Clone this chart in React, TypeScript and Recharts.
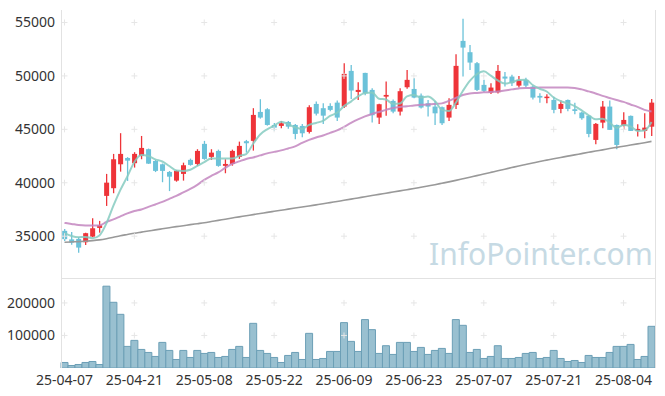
import React from 'react';
import { ComposedChart, Bar, Line, XAxis, YAxis, ReferenceDot } from 'recharts';

// trading days, 25-04-07 .. 25-08-08
const dates = [
  '25-04-07', '25-04-08', '25-04-09', '25-04-10', '25-04-11', '25-04-14', '25-04-15', '25-04-16', '25-04-17', '25-04-18',
  '25-04-21', '25-04-22', '25-04-23', '25-04-24', '25-04-25', '25-04-28', '25-04-29', '25-04-30', '25-05-02', '25-05-07',
  '25-05-08', '25-05-09', '25-05-12', '25-05-13', '25-05-14', '25-05-15', '25-05-16', '25-05-19', '25-05-20', '25-05-21',
  '25-05-22', '25-05-23', '25-05-26', '25-05-27', '25-05-28', '25-05-29', '25-05-30', '25-06-02', '25-06-04', '25-06-05',
  '25-06-09', '25-06-10', '25-06-11', '25-06-12', '25-06-13', '25-06-16', '25-06-17', '25-06-18', '25-06-19', '25-06-20',
  '25-06-23', '25-06-24', '25-06-25', '25-06-26', '25-06-27', '25-06-30', '25-07-01', '25-07-02', '25-07-03', '25-07-04',
  '25-07-07', '25-07-08', '25-07-09', '25-07-10', '25-07-11', '25-07-14', '25-07-15', '25-07-16', '25-07-17', '25-07-18',
  '25-07-21', '25-07-22', '25-07-23', '25-07-24', '25-07-25', '25-07-28', '25-07-29', '25-07-30', '25-07-31', '25-08-01',
  '25-08-04', '25-08-05', '25-08-06', '25-08-07', '25-08-08',
];

const opens = [
  35500, 34700, 34740, 34430, 34960, 35770, 38770, 39490, 41730, 42320,
  41830, 42510, 43140, 42040, 41730, 41010, 40200, 40830, 42140, 41760,
  43640, 42420, 42980, 41580, 41760, 42420, 43890, 43920, 46630, 46880,
  45410, 45320, 45690, 45410, 45320, 44760, 47380, 46980, 47190, 47500,
  47130, 50470, 48500, 50280, 48690, 46100, 48060, 47660, 46660, 48940,
  48780, 48160, 47440, 47130, 47070, 46100, 47280, 53280, 52220, 51190,
  49160, 48440, 48470, 49940, 49940, 49090, 49630, 49000, 48130, 47970,
  47750, 46910, 47750, 46880, 46570, 46280, 44010, 45630, 47130, 45410,
  45350, 46260, 44850, 44850, 45250,
];
const highs = [
  35680, 35400, 34930, 35330, 36680, 36430, 40830, 42700, 44640, 42400,
  42860, 44380, 43200, 42140, 41800, 41100, 41200, 41880, 42260, 43140,
  43920, 43140, 43100, 42200, 43100, 43850, 44010, 46980, 47820, 46980,
  45600, 45790, 45790, 45500, 45500, 47260, 47600, 47440, 47440, 47700,
  51190, 51030, 49410, 50300, 48850, 47400, 49470, 47800, 48850, 50560,
  49800, 48350, 47750, 47660, 47130, 47910, 52030, 55340, 52900, 51300,
  49630, 49320, 51030, 50370, 50120, 50000, 49820, 49100, 48380, 48290,
  48060, 47690, 47800, 47500, 46650, 46350, 45600, 47660, 47690, 45450,
  46600, 46300, 45480, 46500, 47850,
];
const lows = [
  34550, 34200, 33460, 34180, 34900, 35330, 37830, 39020, 41040, 40170,
  41420, 42200, 41760, 41000, 40050, 39220, 40100, 40200, 41600, 41580,
  42150, 42140, 41500, 40890, 41600, 42230, 42820, 43010, 46000, 45350,
  44900, 45100, 45050, 44080, 44260, 44600, 46300, 45510, 46700, 45790,
  47000, 47850, 47750, 48200, 45630, 45510, 46280, 46500, 46300, 48800,
  47900, 46950, 46190, 45410, 45410, 45790, 46910, 49940, 50560, 48600,
  48500, 48300, 48350, 49000, 49060, 48910, 48950, 47800, 47500, 47440,
  46500, 46500, 46700, 46410, 45900, 44260, 43610, 45100, 44950, 43140,
  44950, 44850, 44320, 44170, 44380,
];
const closes = [
  34720, 34400, 33930, 35280, 35740, 36020, 40010, 42200, 42700, 42070,
  42700, 43260, 41790, 41110, 41110, 40570, 41110, 41640, 41670, 42980,
  42230, 42820, 41580, 41760, 42980, 43450, 43700, 46350, 46100, 45410,
  45160, 45570, 45250, 44570, 44630, 47070, 46470, 46280, 46820, 46100,
  50190, 48630, 48690, 48380, 46320, 47350, 48220, 46660, 48570, 49630,
  47970, 47040, 47130, 46500, 45570, 47290, 50940, 52650, 51250, 48690,
  48600, 48910, 50470, 49750, 49320, 49630, 49090, 47970, 47970, 48060,
  46820, 47380, 46910, 46720, 46040, 44570, 45510, 47130, 44950, 43540,
  45880, 44850, 45040, 45160, 47500,
];
const volumes = [
  17000, 7700, 10800, 17000, 20000, 10800, 251500, 202000, 165000, 66400,
  84900, 57100, 47800, 35500, 78700, 54000, 26200, 54000, 32400, 54000,
  44800, 47800, 32400, 35500, 57100, 66400, 32400, 137300, 54000, 44800,
  32400, 17000, 38600, 47800, 26200, 106500, 26200, 29300, 50900, 50900,
  139500, 81800, 50900, 148800, 117900, 44800, 68500, 41700, 78700, 78700,
  50900, 63300, 41700, 54000, 60200, 44800, 148800, 131200, 47800, 57100,
  29300, 35500, 68500, 29300, 29300, 32400, 44800, 47800, 29300, 32400,
  54000, 29300, 20000, 23100, 17000, 38600, 32400, 32400, 47800, 66400,
  66400, 72500, 26200, 35500, 128100,
];
const ma5 = [
  35280, 35020, 34900, 34930, 34810, 35070, 36200, 37850, 39330, 40600,
  41940, 42590, 42500, 42190, 41990, 41570, 41140, 41110, 41220, 41590,
  41930, 42270, 42260, 42270, 42270, 42520, 42690, 43650, 44520, 45000,
  45340, 45720, 45500, 45190, 45040, 45420, 45600, 45800, 46250, 46550,
  47170, 47600, 48090, 48400, 48440, 47870, 47790, 47390, 47420, 48090,
  48210, 47970, 48070, 47650, 46840, 46710, 47490, 48590, 49540, 50160,
  50430, 50020, 49580, 49280, 49410, 49620, 49650, 49150, 48800, 48540,
  47980, 47640, 47430, 47180, 46770, 46320, 45950, 45990, 45640, 45140,
  45400, 45270, 44850, 44890, 45690,
];
const ma20 = [
  36240, 36150, 36050, 36010, 36010, 36010, 36330, 36570, 36850, 37130,
  37360, 37500, 37740, 37970, 38210, 38490, 38770, 39100, 39420, 39800,
  40270, 40640, 40970, 41390, 41760, 42000, 42230, 42370, 42560, 42750,
  42890, 43030, 43210, 43400, 43730, 44010, 44240, 44430, 44670, 44900,
  45230, 45600, 45930, 46210, 46440, 46630, 46820, 47000, 47100, 47150,
  47240, 47290, 47330, 47380, 47430, 47660, 47940, 48220, 48360, 48410,
  48460, 48500, 48550, 48640, 48740, 48830, 48880, 48880, 48920, 48920,
  48920, 48920, 48920, 48880, 48740, 48550, 48360, 48130, 47940, 47750,
  47570, 47330, 47100, 46820, 46680,
];
const ma120 = [
  34430, 34460, 34490, 34530, 34580, 34650, 34760, 34900, 35040, 35160,
  35280, 35380, 35480, 35590, 35690, 35790, 35890, 35980, 36080, 36170,
  36260, 36370, 36480, 36590, 36700, 36810, 36910, 37020, 37120, 37230,
  37330, 37430, 37530, 37630, 37730, 37830, 37930, 38030, 38140, 38250,
  38360, 38470, 38580, 38690, 38800, 38910, 39020, 39130, 39240, 39350,
  39460, 39580, 39700, 39820, 39950, 40080, 40220, 40370, 40520, 40670,
  40820, 40970, 41120, 41270, 41420, 41570, 41710, 41850, 41990, 42120,
  42250, 42370, 42490, 42610, 42730, 42850, 42970, 43080, 43200, 43310,
  43420, 43530, 43640, 43750, 43870,
];

const priceTicks = [35000, 40000, 45000, 50000, 55000];
const volumeTicks = [100000, 200000];

const rows = dates.map((date, i) => ({
  date,
  open: opens[i],
  high: highs[i],
  low: lows[i],
  close: closes[i],
  range: [lows[i], highs[i]],
  volume: volumes[i],
  ma5: ma5[i],
  ma20: ma20[i],
  ma120: ma120[i],
}));

const gridDates = dates.filter((_, i) => i % 10 === 0);

const UP = '#ee3439';
const DOWN = '#6bc2d9';
const FONT = '"Noto Sans", sans-serif';
const tickStyle = { fill: '#333', fontSize: 14, fontFamily: FONT };

const Candle = (props: any) => {
  const { x, y, width, height, payload } = props;
  const { open, close, high, low } = payload;
  const color = close >= open ? UP : DOWN;
  const top0 = Math.min(y, y + height);
  const h = Math.abs(height);
  const k = h / (high - low);
  const cx = x + width / 2;
  const bTop = top0 + (high - Math.max(open, close)) * k;
  const bBot = top0 + (high - Math.min(open, close)) * k;
  return (
    <g>
      <line x1={cx} x2={cx} y1={top0} y2={top0 + h} stroke={color} strokeWidth={1.3} />
      <rect x={cx - 2.5} y={bTop} width={5} height={Math.max(1.5, bBot - bTop)} fill={color} />
    </g>
  );
};

const Cross = (props: any) => {
  const { cx, cy } = props;
  return (
    <g stroke="#e6e6e6" strokeWidth={1}>
      <line x1={cx - 3} x2={cx + 3} y1={cy} y2={cy} />
      <line x1={cx} x2={cx} y1={cy - 3} y2={cy + 3} />
    </g>
  );
};

const crosses = (values: number[]) =>
  gridDates.flatMap((d) =>
    values.map((v) => (
      <ReferenceDot key={`${d}-${v}`} x={d} y={v} shape={Cross} ifOverflow="visible" />
    ))
  );

export default function App() {
  return (
    <div style={{ position: 'absolute', left: 0, top: 0, width: 665, height: 396, background: '#fff', fontFamily: FONT }}>
      <div style={{ position: 'absolute', left: 0, top: 0 }}>
        <ComposedChart width={665} height={278} data={rows} margin={{ top: 10, right: 10, left: 6, bottom: 0 }}>
          <XAxis dataKey="date" hide />
          <YAxis
            domain={[31085, 56170]}
            ticks={priceTicks}
            allowDataOverflow
            axisLine={false}
            tickLine={false}
            tickSize={0}
            tickMargin={6}
            width={55}
            tick={tickStyle}
          />
          {crosses(priceTicks)}
          <Bar dataKey="range" shape={Candle} isAnimationActive={false} />
          <Line type="monotone" dataKey="ma120" stroke="#999999" strokeWidth={1.6} dot={false} isAnimationActive={false} />
          <Line type="monotone" dataKey="ma20" stroke="#c386bf" strokeWidth={2} strokeOpacity={0.85} dot={false} isAnimationActive={false} />
          <Line type="monotone" dataKey="ma5" stroke="#86cbc1" strokeWidth={2} strokeOpacity={0.85} dot={false} isAnimationActive={false} />
        </ComposedChart>
      </div>
      <div style={{ position: 'absolute', left: 0, top: 278 }}>
        <ComposedChart width={665} height={118} data={rows} barCategoryGap={0} margin={{ top: 0, right: 10, left: 6, bottom: 0 }}>
          <XAxis
            dataKey="date"
            interval={9}
            axisLine={false}
            tickLine={false}
            tickSize={0}
            tickMargin={7}
            height={28}
            tick={tickStyle}
          />
          <YAxis
            domain={[0, 276650]}
            ticks={volumeTicks}
            allowDataOverflow
            axisLine={false}
            tickLine={false}
            tickSize={0}
            tickMargin={6}
            width={55}
            tick={tickStyle}
          />
          {crosses(volumeTicks)}
          <Bar dataKey="volume" fill="#99c0d0" stroke="#6c9fb6" strokeWidth={1} isAnimationActive={false} />
        </ComposedChart>
      </div>
      <div style={{ position: 'absolute', left: 61, top: 10, width: 593, height: 358, borderLeft: '1px solid #e2e2e2', borderRight: '1px solid #e2e2e2', pointerEvents: 'none' }} />
      <div style={{ position: 'absolute', left: 61, top: 278, width: 595, height: 0, borderTop: '1px solid #e2e2e2', pointerEvents: 'none' }} />
      <div style={{ position: 'absolute', left: 429, top: 233, fontSize: 30, color: '#c6dae4', fontFamily: FONT, whiteSpace: 'nowrap', pointerEvents: 'none' }}>
        InfoPointer.com
      </div>
    </div>
  );
}
